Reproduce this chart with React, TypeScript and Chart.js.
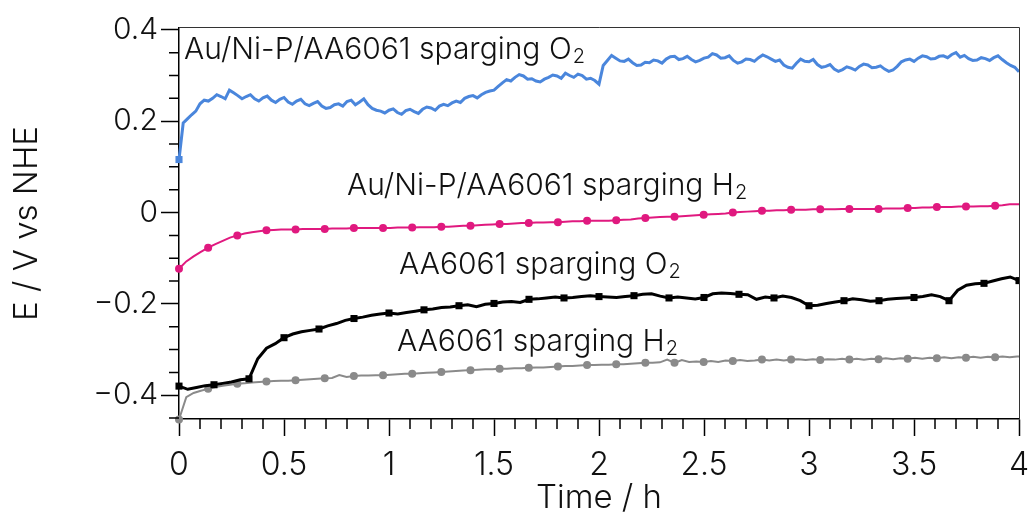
import React, { useEffect, useRef } from 'react';
import { Chart, registerables } from 'chart.js';

Chart.register(...registerables);

// ---- axis ticks ----
const X_TICKS = [0, 0.5, 1, 1.5, 2, 2.5, 3, 3.5, 4];
const X_TICK_LABELS = ['0', '0.5', '1', '1.5', '2', '2.5', '3', '3.5', '4'];
const Y_TICKS = [0.4, 0.2, 0, -0.2, -0.4];
const Y_TICK_LABELS = ['0.4', '0.2', '0', '\u22120.2', '\u22120.4'];
const X_MINOR = [0.1, 0.2, 0.3, 0.4, 0.6, 0.7, 0.8, 0.9, 1.1, 1.2, 1.3, 1.4, 1.6, 1.7, 1.8, 1.9, 2.1, 2.2, 2.3, 2.4, 2.6, 2.7, 2.8, 2.9, 3.1, 3.2, 3.3, 3.4, 3.6, 3.7, 3.8, 3.9];
const Y_MINOR = [-0.45, -0.35, -0.3, -0.25, -0.15, -0.1, -0.05, 0.05, 0.1, 0.15, 0.25, 0.3, 0.35];

// ---- sampling intervals (hours) ----
const DT_BLUE = 0.02;
const DT_BLACK = 1 / 24;
const DT_CIRCLE = 0.0347;

// Au/Ni-P/AA6061 sparging O2 (blue), t = i * DT_BLUE
const AU_O2 = [
  0.116, 0.196, 0.205, 0.214, 0.222, 0.238, 0.246, 0.244, 0.250, 0.258,
  0.254, 0.249, 0.268, 0.262, 0.256, 0.249, 0.254, 0.258, 0.249, 0.244,
  0.251, 0.255, 0.246, 0.241, 0.248, 0.252, 0.242, 0.237, 0.244, 0.248,
  0.238, 0.234, 0.239, 0.243, 0.233, 0.228, 0.230, 0.236, 0.238, 0.233,
  0.243, 0.246, 0.236, 0.242, 0.249, 0.236, 0.228, 0.224, 0.222, 0.218,
  0.224, 0.227, 0.219, 0.215, 0.223, 0.226, 0.221, 0.217, 0.226, 0.231,
  0.229, 0.224, 0.233, 0.237, 0.234, 0.240, 0.244, 0.241, 0.250, 0.254,
  0.256, 0.251, 0.258, 0.263, 0.266, 0.268, 0.276, 0.284, 0.291, 0.288,
  0.296, 0.302, 0.299, 0.292, 0.293, 0.288, 0.286, 0.292, 0.296, 0.301,
  0.299, 0.294, 0.305, 0.300, 0.296, 0.303, 0.300, 0.292, 0.294, 0.289,
  0.281, 0.322, 0.333, 0.344, 0.338, 0.332, 0.331, 0.336, 0.328, 0.322,
  0.323, 0.329, 0.328, 0.334, 0.332, 0.327, 0.336, 0.341, 0.342, 0.335,
  0.337, 0.342, 0.335, 0.330, 0.333, 0.338, 0.340, 0.348, 0.345, 0.338,
  0.339, 0.343, 0.333, 0.327, 0.330, 0.336, 0.335, 0.331, 0.339, 0.345,
  0.341, 0.336, 0.331, 0.334, 0.323, 0.318, 0.316, 0.327, 0.336, 0.331,
  0.330, 0.335, 0.324, 0.318, 0.320, 0.324, 0.314, 0.309, 0.313, 0.319,
  0.316, 0.312, 0.320, 0.325, 0.323, 0.317, 0.318, 0.321, 0.314, 0.309,
  0.312, 0.320, 0.330, 0.334, 0.336, 0.331, 0.338, 0.343, 0.341, 0.336,
  0.337, 0.342, 0.343, 0.339, 0.346, 0.350, 0.340, 0.344, 0.337, 0.333,
  0.334, 0.339, 0.337, 0.333, 0.339, 0.343, 0.335, 0.328, 0.322, 0.318,
  0.308,
];

// Au/Ni-P/AA6061 sparging H2 (magenta), t = i * DT_CIRCLE
const AU_H2 = [
  -0.123, -0.107, -0.096, -0.086, -0.077, -0.069, -0.062, -0.055, -0.050, -0.046,
  -0.043, -0.041, -0.039, -0.038, -0.037, -0.037, -0.037, -0.036, -0.036, -0.036,
  -0.036, -0.035, -0.035, -0.035, -0.034, -0.034, -0.034, -0.034, -0.034, -0.034,
  -0.033, -0.033, -0.033, -0.032, -0.032, -0.032, -0.031, -0.031, -0.030, -0.029,
  -0.029, -0.028, -0.027, -0.026, -0.025, -0.025, -0.024, -0.023, -0.023, -0.022,
  -0.022, -0.021, -0.021, -0.020, -0.019, -0.019, -0.018, -0.018, -0.018, -0.018,
  -0.017, -0.016, -0.015, -0.013, -0.012, -0.011, -0.010, -0.009, -0.009, -0.008,
  -0.007, -0.006, -0.005, -0.004, -0.003, -0.002, 0.000, 0.001, 0.002, 0.003,
  0.004, 0.004, 0.005, 0.005, 0.006, 0.006, 0.006, 0.007, 0.007, 0.007,
  0.007, 0.008, 0.008, 0.008, 0.008, 0.008, 0.008, 0.009, 0.009, 0.009,
  0.010, 0.010, 0.011, 0.011, 0.012, 0.012, 0.012, 0.013, 0.013, 0.013,
  0.014, 0.014, 0.015, 0.016, 0.018, 0.018, 0.019,
];

// AA6061 sparging O2 (black), t = i * DT_BLACK
const AA_O2 = [
  -0.380, -0.387, -0.383, -0.379, -0.377, -0.374, -0.371, -0.366, -0.364, -0.320,
  -0.297, -0.287, -0.274, -0.266, -0.261, -0.258, -0.255, -0.248, -0.243, -0.236,
  -0.232, -0.229, -0.225, -0.222, -0.220, -0.222, -0.219, -0.216, -0.213, -0.211,
  -0.208, -0.207, -0.204, -0.202, -0.206, -0.201, -0.199, -0.196, -0.195, -0.197,
  -0.190, -0.189, -0.187, -0.185, -0.187, -0.186, -0.184, -0.182, -0.184, -0.185,
  -0.186, -0.184, -0.182, -0.179, -0.178, -0.183, -0.187, -0.185, -0.187, -0.189,
  -0.186, -0.178, -0.176, -0.177, -0.179, -0.180, -0.190, -0.185, -0.187, -0.183,
  -0.186, -0.193, -0.204, -0.203, -0.199, -0.196, -0.193, -0.189, -0.191, -0.194,
  -0.193, -0.190, -0.188, -0.187, -0.186, -0.184, -0.180, -0.184, -0.193, -0.170,
  -0.159, -0.156, -0.155, -0.150, -0.145, -0.141, -0.149,
];

// AA6061 sparging H2 (grey), t = i * DT_CIRCLE
const AA_H2 = [
  -0.453, -0.404, -0.395, -0.390, -0.386, -0.382, -0.379, -0.377, -0.375, -0.374,
  -0.372, -0.371, -0.370, -0.369, -0.368, -0.368, -0.367, -0.366, -0.365, -0.364,
  -0.363, -0.362, -0.356, -0.360, -0.358, -0.357, -0.357, -0.356, -0.356, -0.355,
  -0.354, -0.353, -0.353, -0.352, -0.351, -0.350, -0.349, -0.348, -0.347, -0.346,
  -0.345, -0.344, -0.343, -0.343, -0.342, -0.342, -0.341, -0.341, -0.340, -0.339,
  -0.339, -0.338, -0.337, -0.336, -0.336, -0.335, -0.334, -0.334, -0.333, -0.333,
  -0.332, -0.332, -0.331, -0.330, -0.329, -0.329, -0.328, -0.322, -0.329, -0.323,
  -0.327, -0.326, -0.327, -0.325, -0.327, -0.324, -0.325, -0.323, -0.325, -0.324,
  -0.322, -0.324, -0.322, -0.324, -0.322, -0.321, -0.323, -0.321, -0.323, -0.321,
  -0.322, -0.320, -0.322, -0.320, -0.322, -0.320, -0.321, -0.319, -0.321, -0.319,
  -0.320, -0.318, -0.320, -0.318, -0.319, -0.317, -0.319, -0.317, -0.318, -0.316,
  -0.318, -0.316, -0.317, -0.315, -0.317, -0.315, -0.316,
];

// in-plot labels (anchor: left edge / baseline, in data units)
const ANNOTATIONS = [
  { text: 'Au/Ni-P/AA6061 sparging O', sub: '2', t: 0.024, v: 0.336 },
  { text: 'Au/Ni-P/AA6061 sparging H', sub: '2', t: 0.8, v: 0.039 },
  { text: 'AA6061 sparging O', sub: '2', t: 1.048, v: -0.134 },
  { text: 'AA6061 sparging H', sub: '2', t: 1.038, v: -0.304 },
];

const FONT = 'Inter';
const MINOR_LEN = 10;

const toPoints = (arr: number[], dt: number) => arr.map((y, i) => ({ x: i * dt, y }));

const decorPlugin = {
  id: 'decor',
  afterDraw(chart: any) {
    const { ctx, chartArea: a, scales } = chart;
    const xs = scales.x;
    const ys = scales.y;
    ctx.save();
    // minor ticks
    ctx.strokeStyle = '#000';
    ctx.lineWidth = 1.5;
    ctx.beginPath();
    for (const t of X_MINOR) {
      const px = xs.getPixelForValue(t);
      ctx.moveTo(px, a.bottom);
      ctx.lineTo(px, a.bottom + MINOR_LEN);
    }
    for (const v of Y_MINOR) {
      const py = ys.getPixelForValue(v);
      ctx.moveTo(a.left, py);
      ctx.lineTo(a.left - MINOR_LEN, py);
    }
    ctx.stroke();
    // top / right frame
    ctx.strokeStyle = '#333';
    ctx.lineWidth = 1;
    ctx.beginPath();
    ctx.moveTo(a.left, a.top - 0.5);
    ctx.lineTo(a.right + 0.5, a.top - 0.5);
    ctx.lineTo(a.right + 0.5, a.bottom);
    ctx.stroke();
    // annotations
    ctx.fillStyle = '#111';
    ctx.textBaseline = 'alphabetic';
    ctx.textAlign = 'left';
    for (const an of ANNOTATIONS) {
      const x = xs.getPixelForValue(an.t);
      const y = ys.getPixelForValue(an.v);
      ctx.font = `300 30px ${FONT}`;
      ctx.fillText(an.text, x, y);
      const w = ctx.measureText(an.text).width;
      ctx.font = `300 20px ${FONT}`;
      ctx.fillText(an.sub, x + w + 1, y + 4);
    }
    ctx.restore();
  },
};

export default function App() {
  const ref = useRef<HTMLCanvasElement>(null);
  useEffect(() => {
    document.body.style.margin = '0';
    const markerEvery = (r: number) => (c: any) => (c.dataIndex % 4 === 0 ? r : 0);
    const clip = { left: 8, right: 1, top: 1, bottom: 8 };
    const chart = new Chart(ref.current!, {
      type: 'line',
      data: {
        datasets: [
          {
            label: 'Au/Ni-P/AA6061 sparging O2',
            data: toPoints(AU_O2, DT_BLUE),
            borderColor: '#4a86dc',
            backgroundColor: '#4a86dc',
            borderWidth: 3,
            pointStyle: 'rect',
            pointRadius: (c: any) => (c.dataIndex === 0 ? 5 : 0),
            pointBorderWidth: 0,
            tension: 0,
            clip,
          },
          {
            label: 'Au/Ni-P/AA6061 sparging H2',
            data: toPoints(AU_H2, DT_CIRCLE),
            borderColor: '#e0197f',
            backgroundColor: '#e0197f',
            borderWidth: 2,
            pointStyle: 'circle',
            pointRadius: markerEvery(4),
            pointBorderWidth: 0,
            tension: 0,
            clip,
          },
          {
            label: 'AA6061 sparging O2',
            data: toPoints(AA_O2, DT_BLACK),
            borderColor: '#000',
            backgroundColor: '#000',
            borderWidth: 3,
            pointStyle: 'rect',
            pointRadius: markerEvery(5),
            pointBorderWidth: 0,
            tension: 0,
            clip,
          },
          {
            label: 'AA6061 sparging H2',
            data: toPoints(AA_H2, DT_CIRCLE),
            borderColor: '#8a8a8a',
            backgroundColor: '#8a8a8a',
            borderWidth: 2,
            pointStyle: 'circle',
            pointRadius: markerEvery(4),
            pointBorderWidth: 0,
            tension: 0,
            clip,
          },
        ],
      },
      options: {
        animation: false,
        responsive: false,
        devicePixelRatio: 1,
        layout: { padding: { left: 0, right: 9, top: 28, bottom: 0 } },
        plugins: { legend: { display: false }, tooltip: { enabled: false } },
        events: [],
        scales: {
          x: {
            type: 'linear',
            min: 0,
            max: 4,
            afterBuildTicks: (s: any) => {
              s.ticks = X_TICKS.map((value) => ({ value }));
            },
            afterFit: (s: any) => {
              s.height = 96;
              s.paddingLeft = 0;
              s.paddingRight = 0;
            },
            ticks: {
              callback: (v: any) => X_TICK_LABELS[X_TICKS.indexOf(Number(v))] ?? '',
              font: { family: FONT, size: 32, weight: 300 },
              color: '#111',
              padding: 10,
              maxRotation: 0,
              autoSkip: false,
            },
            grid: {
              display: true,
              drawOnChartArea: false,
              drawTicks: true,
              tickLength: 17,
              tickWidth: 1.5,
              tickColor: '#000',
            },
            border: { display: true, color: '#000', width: 1.5 },
            title: {
              display: true,
              text: 'Time / h',
              font: { family: FONT, size: 33, weight: 300 },
              color: '#111',
              padding: { top: 0, bottom: -3 },
            },
          },
          y: {
            type: 'linear',
            min: -0.452,
            max: 0.404,
            afterBuildTicks: (s: any) => {
              s.ticks = Y_TICKS.map((value) => ({ value }));
            },
            afterFit: (s: any) => {
              s.width = 179;
              s.paddingTop = 0;
              s.paddingBottom = 0;
            },
            ticks: {
              callback: (v: any) => Y_TICK_LABELS[Y_TICKS.indexOf(Number(v))] ?? '',
              font: { family: FONT, size: 30, weight: 300 },
              color: '#111',
              padding: 3,
              autoSkip: false,
            },
            grid: {
              display: true,
              drawOnChartArea: false,
              drawTicks: true,
              tickLength: 18,
              tickWidth: 1.5,
              tickColor: '#000',
            },
            border: { display: true, color: '#000', width: 1.5 },
            title: {
              display: true,
              text: 'E / V vs NHE',
              font: { family: FONT, size: 33, weight: 300 },
              color: '#111',
              padding: { top: 7, bottom: 0 },
            },
          },
        },
      },
      plugins: [decorPlugin],
    } as any);
    return () => chart.destroy();
  }, []);
  return (
    <div style={{ width: 1028, height: 515 }}>
      <canvas ref={ref} width={1028} height={515} style={{ display: 'block', width: 1028, height: 515 }} />
    </div>
  );
}
